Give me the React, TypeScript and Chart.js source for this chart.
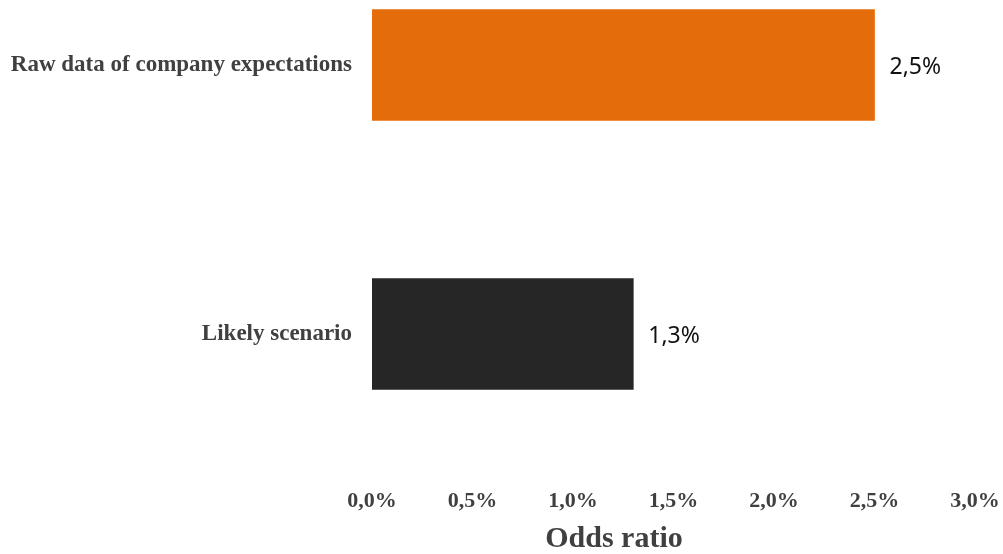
import React, { useEffect, useRef } from "react";
import { Chart, registerables } from "chart.js";

Chart.register(...registerables);

// Chart content
const categories = ["Raw data of company expectations", "Likely scenario"];
const oddsValues = [2.5, 1.3];
const barColors = ["#E46C0A", "#262626"];
const xTickValues = [0, 0.5, 1, 1.5, 2, 2.5, 3];
const axisTitle = "Odds ratio";

const pct = (v: number) => v.toFixed(1).replace(".", ",") + "%";

const SERIF = "'Liberation Serif', 'DejaVu Serif', serif";
const LABEL_COLOR = "#404040";

// Percent labels written just past the end of each bar
const valueLabels = {
  id: "valueLabels",
  afterDatasetsDraw(chart: any) {
    const ctx = chart.ctx;
    const meta = chart.getDatasetMeta(0);
    ctx.save();
    ctx.font = "23px 'Noto Sans', sans-serif";
    ctx.fillStyle = "#111111";
    ctx.textAlign = "left";
    ctx.textBaseline = "middle";
    meta.data.forEach((bar: any, i: number) => {
      ctx.fillText(pct(oddsValues[i]), bar.x + 15, bar.y + 2);
    });
    ctx.restore();
  },
};

// Axis title below the tick labels
const axisTitlePlugin = {
  id: "axisTitle",
  afterDraw(chart: any) {
    const ctx = chart.ctx;
    const area = chart.chartArea;
    ctx.save();
    ctx.font = `bold 30px ${SERIF}`;
    ctx.fillStyle = LABEL_COLOR;
    ctx.textAlign = "center";
    ctx.textBaseline = "middle";
    ctx.fillText(axisTitle, area.left + 242, chart.height - 15);
    ctx.restore();
  },
};

export default function App() {
  const canvasRef = useRef<HTMLCanvasElement | null>(null);

  useEffect(() => {
    if (!canvasRef.current) return;
    const chart = new Chart(canvasRef.current, {
      type: "bar",
      data: {
        datasets: [
          {
            data: oddsValues.map((v, i) => ({ x: v, y: i })),
            backgroundColor: barColors,
            borderWidth: 0,
            barThickness: 111,
          },
        ],
      },
      options: {
        indexAxis: "y",
        animation: false,
        responsive: false,
        layout: { padding: { top: 0, right: 28, bottom: 0, left: 0 } },
        plugins: {
          legend: { display: false },
          tooltip: { enabled: false },
        },
        scales: {
          x: {
            type: "linear",
            min: 0,
            max: 3,
            offset: false,
            grid: { display: false, drawTicks: false },
            border: { display: false },
            afterBuildTicks: (s: any) => {
              s.ticks = xTickValues.map((v) => ({ value: v }));
            },
            afterFit: (s: any) => {
              s.height = 84;
              s.paddingLeft = 0;
              s.paddingRight = 0;
            },
            ticks: {
              autoSkip: false,
              maxRotation: 0,
              padding: 18,
              color: LABEL_COLOR,
              font: { family: SERIF, size: 22, weight: "bold" },
              callback: (v: any) => pct(Number(v)),
            },
          },
          y: {
            type: "linear",
            reverse: true,
            min: -0.2416,
            max: 1.5056,
            offset: false,
            grid: { display: false, drawTicks: false, offset: false },
            border: { display: false },
            afterBuildTicks: (s: any) => {
              s.ticks = categories.map((_, i) => ({ value: i }));
            },
            afterFit: (s: any) => {
              s.width = 372;
              s.paddingTop = 0;
              s.paddingBottom = 0;
            },
            ticks: {
              autoSkip: false,
              padding: 20,
              color: LABEL_COLOR,
              font: { family: SERIF, size: 23, weight: "bold" },
              callback: (v: any) => categories[Number(v)] ?? "",
            },
          },
        },
      },
      plugins: [valueLabels, axisTitlePlugin],
    } as any);
    return () => chart.destroy();
  }, []);

  return (
    <div
      style={{
        position: "fixed",
        left: 0,
        top: 0,
        width: 1003,
        height: 554,
        background: "#ffffff",
      }}
    >
      <canvas
        ref={canvasRef}
        width={1003}
        height={554}
        style={{ display: "block", width: 1003, height: 554 }}
      />
    </div>
  );
}
